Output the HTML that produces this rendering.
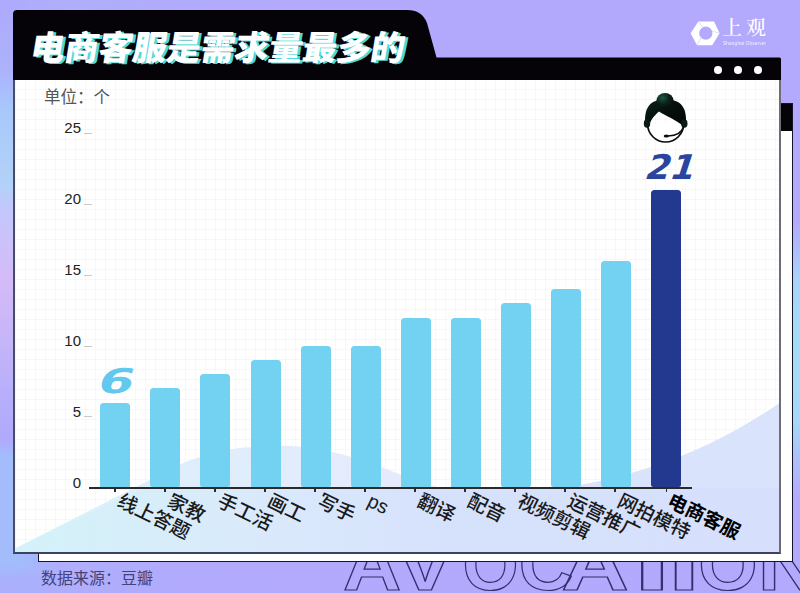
<!DOCTYPE html>
<html lang="zh-CN">
<head>
<meta charset="utf-8">
<title>电商客服是需求量最多的</title>
<style>
*{margin:0;padding:0;box-sizing:border-box;}
html,body{width:800px;height:593px;overflow:hidden;}
body{position:relative;font-family:"Liberation Sans","Noto Sans CJK SC",sans-serif;
background:
 linear-gradient(90deg,#aeb0fc 0%,#b2aafd 25%,#b3a9fd 100%);
}
.lstrip{position:absolute;left:0;top:0;width:70px;height:593px;
 background:linear-gradient(180deg,#aeaafc 0px,#acb2fc 70px,#a8c8fc 110px,#b2d2f8 185px,#c2c8fc 205px,#ccc2fa 240px,#d4baf8 285px,#c8b6f8 330px,#b6aefc 400px,#b0aafc 440px,#a2bcfc 455px,#a2bcfc 565px,#aab0fc 580px,#aab0fc 593px);
 -webkit-mask-image:linear-gradient(90deg,#000 0,#000 16px,rgba(0,0,0,0) 60px);mask-image:linear-gradient(90deg,#000 0,#000 16px,rgba(0,0,0,0) 60px);}
.rstrip{position:absolute;left:780px;top:0;width:20px;height:593px;
 background:linear-gradient(180deg,rgba(179,169,253,0) 0px,rgba(179,169,253,0) 220px,#a8d4fa 280px,#a4dcf8 340px,#a6d8f8 420px,rgba(179,169,253,0) 500px);}
.bgword{position:absolute;left:0;top:529px;font:bold 72px/72px "Liberation Sans",sans-serif;color:transparent;-webkit-text-stroke:1.2px #34306e;white-space:nowrap;}
.bgword span{position:absolute;top:0;}
.back{position:absolute;left:38px;top:103px;width:755px;height:459px;background:#fff;border:1.5px solid #14142a;}
.back .bh{position:absolute;left:0;top:0;right:0;height:27px;background:#050308;}
.front{position:absolute;left:13px;top:80px;width:768px;height:474px;border:2px solid #474d68;border-top:none;border-right-color:#6d6d78;border-bottom-color:#3c4260;
 background-color:#fff;
 background-image:
  linear-gradient(90deg, rgba(0,0,0,0.028) 1px, transparent 1px),
  linear-gradient(0deg, rgba(0,0,0,0.028) 1px, transparent 1px);
 background-size:10px 10px;overflow:hidden;}
svg.hdr{position:absolute;left:0;top:0;}
.title{position:absolute;left:28px;top:25.5px;font-family:"Noto Sans CJK SC",sans-serif;font-weight:900;font-size:34px;line-height:40px;letter-spacing:0px;color:#fff;white-space:nowrap;transform:skewX(-9.5deg);transform-origin:0 100%;text-shadow:3px 0.5px 0 #4fd8da;}
.dot{position:absolute;top:66px;width:8px;height:8px;border-radius:50%;background:#fff;}
.logo{position:absolute;left:690px;top:18px;width:90px;height:30px;}
.logo .t{position:absolute;left:32px;top:-4px;font-family:"Noto Serif CJK SC",serif;font-weight:500;font-size:20px;line-height:26px;color:#fff;letter-spacing:4px;white-space:nowrap;}
.logo .s{position:absolute;left:33px;top:22px;font-size:5px;line-height:6px;color:#fff;white-space:nowrap;opacity:.85;letter-spacing:0.2px;transform:scaleX(0.93);transform-origin:0 0;}
.unit{position:absolute;left:44px;top:86px;font-family:"Noto Sans CJK SC",sans-serif;font-size:16.5px;color:#555;line-height:20px;}
.yl{position:absolute;width:40px;left:41px;text-align:right;font-size:15px;color:#222;line-height:15px;}
.tk{position:absolute;left:84px;width:8px;height:1px;background:#c8c8c8;}
.axis{position:absolute;left:89px;top:486.5px;width:603px;height:2px;background:#2a2a2a;}
.xt{position:absolute;top:488px;width:1.5px;height:4px;background:#2a2a2a;}
.bar{position:absolute;width:30px;background:#73d1f2;border-radius:3.5px 3.5px 2.5px 2.5px;}
.bar.hl{background:#22398f;}
.xl{position:absolute;top:490.5px;font-family:"Liberation Sans","Noto Sans CJK SC",sans-serif;font-size:19.5px;line-height:19.5px;font-weight:500;color:#1a1a1a;white-space:nowrap;transform-origin:0 0;transform:rotate(26deg);}
.xl.b{font-weight:bold;color:#000;}
.num{position:absolute;font:bold 33px/1 "DejaVu Sans","Liberation Sans",sans-serif;white-space:nowrap;transform-origin:0 100%;transform:skewX(-16deg) scaleX(1.18);}
.src{position:absolute;left:41px;top:567px;font-family:"Noto Sans CJK SC",sans-serif;font-size:16px;line-height:20px;color:#43437a;}
</style>
</head>
<body>
<div class="lstrip"></div>
<div class="rstrip"></div>
<div class="bgword"><span style="left:372px;transform:translateX(-50%) scaleX(1.12)">A</span><span style="left:424.5px;transform:translateX(-50%) scaleX(1.2)">V</span><span style="left:490.5px;transform:translateX(-50%) scaleX(1)">O</span><span style="left:546px;transform:translateX(-50%) scaleX(1.05)">C</span><span style="left:594.5px;transform:translateX(-50%) scaleX(1.3)">A</span><span style="left:651.5px;transform:translateX(-50%) scaleX(1.9)">T</span><span style="left:683.75px;transform:translateX(-50%) scaleX(1.6)">I</span><span style="left:728px;transform:translateX(-50%) scaleX(1.06)">O</span><span style="left:789px;transform:translateX(-50%) scaleX(1.2)">N</span></div>
<div class="back"><div class="bh"></div></div>

<svg class="hdr" width="800" height="100" viewBox="0 0 800 100">
 <path d="M13 81 L13 14 Q13 10 17 10 L407 10 Q422 10 427 23 L436.5 57.5 L779.5 57.5 Q781 57.5 781 59 L781 81 Z" fill="#050308"/>
</svg>
<div class="title">电商客服是需求量最多的</div>
<div class="dot" style="left:714px"></div>
<div class="dot" style="left:733.5px"></div>
<div class="dot" style="left:754px"></div>

<div class="logo">
 <svg width="32" height="30" viewBox="688 18 32 30" style="position:absolute;left:-2px;top:0">
  <path d="M690.6 33.2 L698.3 21.4 L714 21.4 L719.6 33.2 L712.2 45.2 L697 45.2 Z M712.4 33.2 A6.6 6.6 0 1 0 699.2 33.2 A6.6 6.6 0 1 0 712.4 33.2 Z" fill="#fff" fill-rule="evenodd"/>
  <path d="M698.3 21.4 L703 27.5 M719.6 33.2 L712 31 M697 45.2 L701 38" stroke="#d8d2fa" stroke-width="0.8"/>
 </svg>
 <div class="t">上观</div>
 <div class="s">Shanghai Observer</div>
</div>

<div class="front">
 <svg class="wave" width="800" height="593" viewBox="0 0 800 593" style="position:absolute;left:-15px;top:-80px">
  <defs>
   <linearGradient id="wg" x1="14" y1="552" x2="420" y2="430" gradientUnits="userSpaceOnUse">
    <stop offset="0" stop-color="#d3f2f9"/>
    <stop offset="0.45" stop-color="#dbecfb"/>
    <stop offset="1" stop-color="#e4e8fd"/>
   </linearGradient>
   <linearGradient id="bg2" x1="14" y1="0" x2="781" y2="0" gradientUnits="userSpaceOnUse">
    <stop offset="0" stop-color="#d3f2f9"/>
    <stop offset="0.3" stop-color="#d9eafb"/>
    <stop offset="0.55" stop-color="#d5e1fc"/>
    <stop offset="1" stop-color="#d5dffc"/>
   </linearGradient>
  </defs>
  <path d="M14 549 L184 462.5 C205 455 225 449 245 447.5 C262 446 275 445.5 290 446 C320 447 345 455 370 463 C395 471 415 483 440 487.5 L440 552 L14 552 Z" fill="url(#wg)" opacity="0.9"/>
  <path d="M144 488 L781 488 L781 552 L14 552 L14 549 Z" fill="url(#bg2)" opacity="0.9"/>
  <path d="M440 488 L565 487.5 C625 478 700 458 781 402 L781 552 L440 552 Z" fill="#d5e0fc" opacity="0.9"/>
 </svg>
</div>

<!-- chart (absolute to page) -->
<div class="unit">单位：个</div>

<div class="yl" style="top:120px">25</div>
<div class="yl" style="top:191px">20</div>
<div class="yl" style="top:262px">15</div>
<div class="yl" style="top:333px">10</div>
<div class="yl" style="top:404px">5</div>
<div class="yl" style="top:474.5px">0</div>
<div class="tk" style="top:133px"></div>
<div class="tk" style="top:204px"></div>
<div class="tk" style="top:275px"></div>
<div class="tk" style="top:346px"></div>
<div class="tk" style="top:416px"></div>

<div class="bar" style="left:100.2px;top:402.5px;height:85px"></div>
<div class="bar" style="left:150.3px;top:388.3px;height:99.2px"></div>
<div class="bar" style="left:200.4px;top:374.1px;height:113.4px"></div>
<div class="bar" style="left:250.5px;top:360px;height:127.5px"></div>
<div class="bar" style="left:300.6px;top:345.8px;height:141.7px"></div>
<div class="bar" style="left:350.7px;top:345.8px;height:141.7px"></div>
<div class="bar" style="left:400.8px;top:317.5px;height:170px"></div>
<div class="bar" style="left:450.9px;top:317.5px;height:170px"></div>
<div class="bar" style="left:501px;top:303.3px;height:184.2px"></div>
<div class="bar" style="left:551.1px;top:289.1px;height:198.4px"></div>
<div class="bar" style="left:601.2px;top:260.8px;height:226.7px"></div>
<div class="bar hl" style="left:651.3px;top:189.9px;height:297.6px"></div>

<div class="axis"></div>
<div class="xt" style="left:114px"></div>
<div class="xt" style="left:164px"></div>
<div class="xt" style="left:214px"></div>
<div class="xt" style="left:264px"></div>
<div class="xt" style="left:314px"></div>
<div class="xt" style="left:364px"></div>
<div class="xt" style="left:414px"></div>
<div class="xt" style="left:464px"></div>
<div class="xt" style="left:514px"></div>
<div class="xt" style="left:564px"></div>
<div class="xt" style="left:614px"></div>
<div class="xt" style="left:665.5px"></div>

<div class="xl" style="left:123px">线上答题</div>
<div class="xl" style="left:173px">家教</div>
<div class="xl" style="left:223px">手工活</div>
<div class="xl" style="left:273px">画工</div>
<div class="xl" style="left:323px">写手</div>
<div class="xl" style="left:373px">ps</div>
<div class="xl" style="left:423px">翻译</div>
<div class="xl" style="left:473px">配音</div>
<div class="xl" style="left:523px">视频剪辑</div>
<div class="xl" style="left:573px">运营推广</div>
<div class="xl" style="left:623px">网拍模特</div>
<div class="xl b" style="left:673px">电商客服</div>

<div class="num" style="left:94px;top:364px;color:#62c8ee;font-size:34px;transform:skewX(-17deg) scaleX(1.5);">6</div>
<div class="num" style="left:642px;top:150px;color:#2a45a0;font-size:34px;transform:skewX(-18deg) scaleX(1.03);">21</div>

<svg class="icon" width="60" height="60" viewBox="636 88 60 60" style="position:absolute;left:636px;top:88px">
 <defs>
  <radialGradient id="bun" cx="0.35" cy="0.3" r="0.8">
   <stop offset="0" stop-color="#1d5542"/>
   <stop offset="0.5" stop-color="#0a2018"/>
   <stop offset="1" stop-color="#050a08"/>
  </radialGradient>
  <linearGradient id="hair" x1="0" y1="0" x2="1" y2="1">
   <stop offset="0" stop-color="#0b231b"/>
   <stop offset="0.5" stop-color="#060f0c"/>
   <stop offset="1" stop-color="#030605"/>
  </linearGradient>
 </defs>
 <path d="M647.6 124 A18 18 0 0 0 683.6 124" fill="#fff" stroke="#0c0c0c" stroke-width="1.7"/>
 <path d="M645.2 125 C644 107 650 99.5 665.6 99.5 C681 99.5 687.2 107 686 125 L682 125 C676 120 666 116 659 111.5 C655 115 651 119 649.5 125 Z" fill="url(#hair)"/>
 <ellipse cx="665" cy="101" rx="8.6" ry="8" fill="url(#bun)"/>
 <ellipse cx="647" cy="123.5" rx="3.2" ry="4.3" fill="#0b1a15"/>
 <ellipse cx="684.3" cy="123.5" rx="3.2" ry="4.3" fill="#0b1a15"/>
 <path d="M683.5 127 Q681 135.5 668 136" fill="none" stroke="#0c0c0c" stroke-width="1.6" stroke-linecap="round"/>
 <ellipse cx="666.3" cy="136" rx="2.6" ry="1.6" fill="#0c0c0c"/>
</svg>
<div class="src">数据来源：豆瓣</div>
</body>
</html>
